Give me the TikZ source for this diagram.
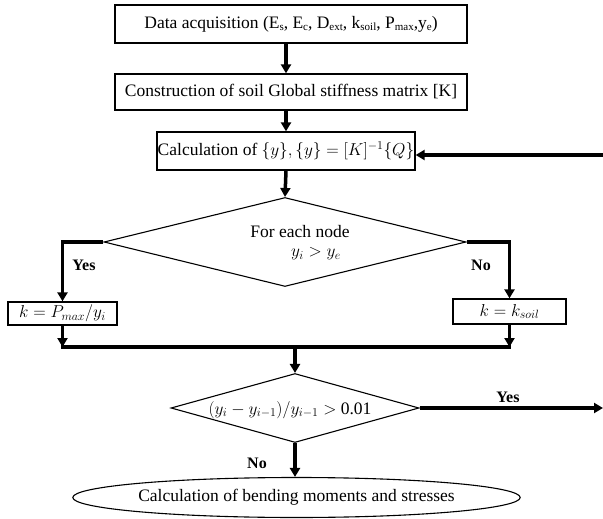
\documentclass[tikz,border=0pt]{standalone}
\usepackage{fontspec}
\setmainfont{Liberation Serif}
\usetikzlibrary{shapes.geometric,arrows.meta}
\newcommand{\lowsub}[1]{\raisebox{-0.3ex}{\fontsize{11}{11}\selectfont #1}}
\begin{document}
\begin{tikzpicture}[x=1pt,y=-1pt,
  txt/.style={font=\fontsize{17.5}{20}\selectfont, inner sep=0pt},
  lbl/.style={font=\fontsize{16}{19}\selectfont\bfseries, inner sep=0pt},
  box/.style={draw, line width=1.3pt, inner sep=0pt, font=\fontsize{17.5}{20}\selectfont},
  dia/.style={draw, diamond, line width=1.1pt, inner sep=0pt},
  oval/.style={draw, ellipse, line width=1.1pt, inner sep=0pt, font=\fontsize{17.5}{20}\selectfont},
  conn/.style={line width=3.5pt, -{Triangle[length=9pt,width=10pt]}},
  thk/.style={line width=3.5pt}]
\useasboundingbox (0,0) rectangle (603,519);
\node[box, minimum width=352pt, minimum height=38pt] (b1) at (291,24)
  {Data acquisition (E\lowsub{s}, E\lowsub{c}, D\lowsub{ext}, k\lowsub{soil}, P\lowsub{max},y\lowsub{e})};
\node[box, minimum width=352pt, minimum height=36pt] (b2) at (291,92)
  {Construction of soil Global stiffness matrix [K]};
\node[box, minimum width=258pt, minimum height=38pt] (b3) at (286,151)
  {Calculation of $\{y\},\{y\}=[K]^{-1}\{Q\}$};
\node[dia, minimum width=362pt, minimum height=89pt] (d1) at (285,242) {};
\node[txt] (t1) at (300,232) {For each node};
\node[txt] (t2) at (316,254) {$y_i > y_e$};
\node[box, minimum width=109pt, minimum height=23pt] (k1) at (62.5,313.5) {$k=P_{max}/y_i$};
\node[box, minimum width=113pt, minimum height=25pt] (k2) at (509.5,311.5) {$k=k_{soil}$};
\coordinate (m) at (295,347);
\node[dia, minimum width=248pt, minimum height=69pt] (d2) at (295,408) {};
\node[txt] (t3) at (290,410) {$(y_i-y_{i-1})/y_{i-1}>$ 0.01};
\node[oval, minimum width=433pt, minimum height=40pt] (e) at (296.5,497.5)
  {Calculation of bending moments and stresses};
\coordinate (fb) at (603,155);
\coordinate (yr) at (603,408);
\node[lbl] (ly1) at (84,265) {Yes};
\node[lbl] (ln1) at (481,265) {No};
\node[lbl] (ly2) at (508,397) {Yes};
\node[lbl] (ln2) at (257,463) {No};
% connectors
\draw[conn] (b1.south -| b3.north) -- (b2.north -| b3.north);
\draw[conn] (b2.south -| b3.north) -- (b3.north);
\draw[conn] (b3.south) -- (d1.north);
\draw[conn] (fb) -- (fb -| b3.east);
\draw[conn] (d1.west) -| (k1.north);
\draw[conn] (d1.east) -| (k2.north);
\draw[conn] (k1.south) -- (k1.south |- m);
\draw[conn] (k2.south) -- (k2.south |- m);
\draw[thk] ([xshift=-1.75pt]k1.south |- m) -- ([xshift=1.75pt]k2.south |- m);
\draw[conn] (m) -- (d2.north);
\draw[conn] (d2.east) -- (yr);
\draw[conn] (d2.south) -- (e.north -| d2.south);
\end{tikzpicture}
\end{document}
